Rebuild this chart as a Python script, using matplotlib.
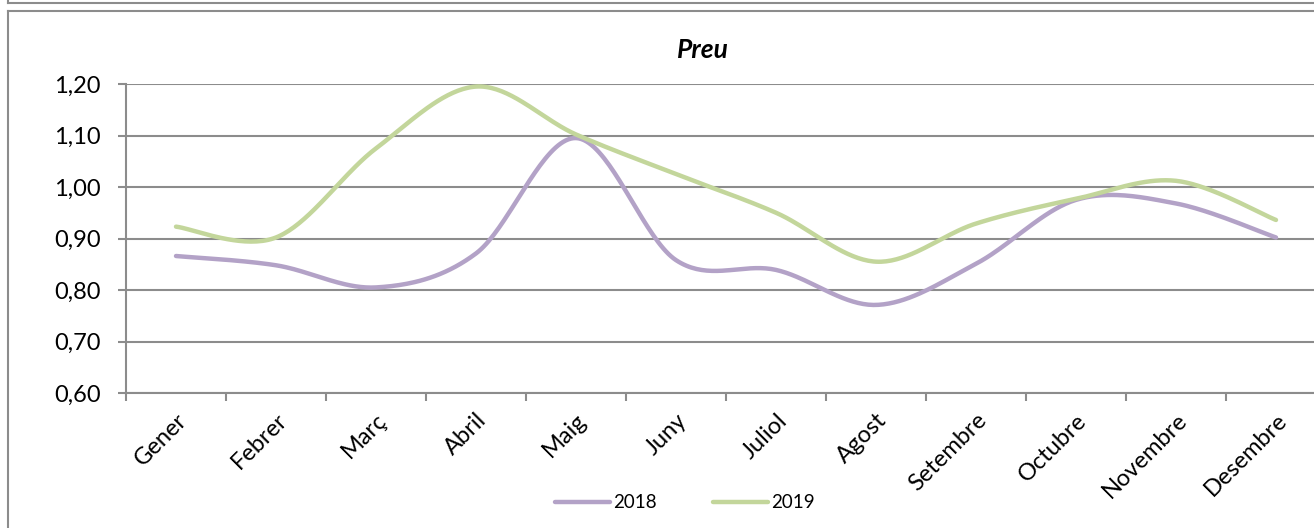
import numpy as np
import matplotlib
matplotlib.use("Agg")
import matplotlib.pyplot as plt
from matplotlib.lines import Line2D
from matplotlib.ticker import FuncFormatter, FixedLocator

months = ["Gener", "Febrer", "Març", "Abril", "Maig", "Juny", "Juliol",
          "Agost", "Setembre", "Octubre", "Novembre", "Desembre"]
preu_2018 = [0.866, 0.848, 0.805, 0.871, 1.095, 0.858, 0.839, 0.771, 0.851, 0.975, 0.968, 0.902]
preu_2019 = [0.923, 0.902, 1.075, 1.195, 1.102, 1.025, 0.950, 0.855, 0.929, 0.977, 1.012, 0.936]
series_names = ["2018", "2019"]
colors = ["#B3A2C7", "#C3D69B"]
title = "Preu"

plt.rcParams["font.family"] = ["Lato", "DejaVu Sans"]

def smooth(xs, ys, n=40):
    """Excel-like smoothed line: cubic Bezier through points (Catmull-Rom style)."""
    xs = np.asarray(xs, float); ys = np.asarray(ys, float)
    P = np.column_stack([xs, ys])
    out = []
    m = len(P)
    for i in range(m - 1):
        p0 = P[i - 1] if i > 0 else P[i]
        p1 = P[i]
        p2 = P[i + 1]
        p3 = P[i + 2] if i + 2 < m else P[i + 1]
        c1 = p1 + (p2 - p0) / 6.0
        c2 = p2 - (p3 - p1) / 6.0
        t = np.linspace(0, 1, n)[:, None]
        seg = ((1 - t) ** 3) * p1 + 3 * ((1 - t) ** 2) * t * c1 + 3 * (1 - t) * t ** 2 * c2 + t ** 3 * p2
        out.append(seg if i == 0 else seg[1:])
    out = np.vstack(out)
    return out[:, 0], out[:, 1]

W, H = 1314, 528
fig = plt.figure(figsize=(W / 100, H / 100), dpi=100)

left_px, right_px, top_px, bot_px = 126, 1326, 84, 393
ax = fig.add_axes([left_px / W, 1 - bot_px / H, (right_px - left_px) / W, (bot_px - top_px) / H])

grid_color = "#8C8C8C"
x = np.arange(len(months))
for vals, col, name in zip([preu_2018, preu_2019], colors, series_names):
    sx, sy = smooth(x, vals)
    ax.plot(sx, sy, color=col, lw=3.2, solid_capstyle="round", label=name, zorder=3)

ax.set_xlim(-0.5, len(months) - 0.5)
ax.set_ylim(0.60, 1.20)
ax.set_yticks(np.arange(0.60, 1.201, 0.10))
ax.yaxis.set_major_formatter(FuncFormatter(lambda v, p: f"{v:.2f}".replace(".", ",")))
ax.yaxis.grid(True, color=grid_color, lw=1.5)
ax.set_axisbelow(True)

ax.set_xticks(x)
ax.set_xticklabels(months, rotation=45, ha="right", va="top", rotation_mode="anchor", fontsize=17)
ax.xaxis.set_minor_locator(FixedLocator(np.arange(-0.5, len(months) + 0.5, 1)))
ax.tick_params(axis="x", which="major", length=0, pad=12)
ax.tick_params(axis="x", which="minor", length=5.5, width=1.5, color=grid_color, direction="out")
ax.tick_params(axis="y", length=6, width=1.5, color=grid_color, direction="out", pad=12, labelsize=17)

for s in ["top", "right"]:
    ax.spines[s].set_visible(False)
for s in ["left", "bottom"]:
    ax.spines[s].set_color(grid_color)
    ax.spines[s].set_linewidth(1.5)

fig.text(703 / W, 1 - 50 / H, title, ha="center", va="center", fontsize=19,
         fontweight="bold", fontstyle="italic")

handles = [Line2D([], [], color=c, lw=3.2, solid_capstyle="round") for c in colors]
fig.legend(handles, series_names, loc="center", bbox_to_anchor=(685 / W, 1 - 503 / H),
           ncol=2, frameon=False, fontsize=13.5, handlelength=2.9, handletextpad=0.2,
           columnspacing=3.0)

border = "#8C8C8C"
fig.add_artist(Line2D([8 / W, 8 / W], [1 - 11 / H, 0], transform=fig.transFigure, color=border, lw=1.5))
fig.add_artist(Line2D([8 / W, 1], [1 - 11 / H, 1 - 11 / H], transform=fig.transFigure, color=border, lw=1.5))
fig.add_artist(Line2D([8 / W, 1], [1 - 2.5 / H, 1 - 2.5 / H], transform=fig.transFigure, color=border, lw=1.5))
fig.add_artist(Line2D([8 / W, 8 / W], [1, 1 - 2.5 / H], transform=fig.transFigure, color=border, lw=1.5))

fig.savefig("out.png", dpi=100)
